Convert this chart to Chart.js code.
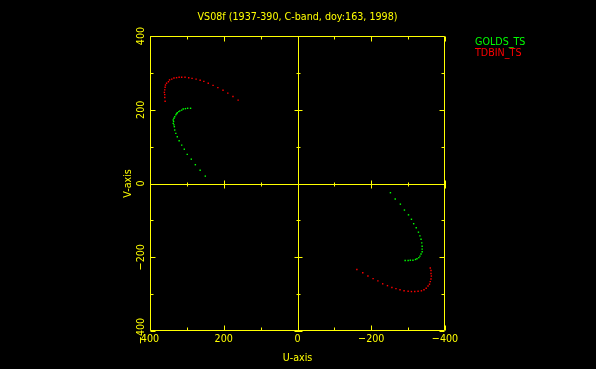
<!DOCTYPE html>
<html>
<head>
<meta charset="utf-8">
<script src="https://cdn.jsdelivr.net/npm/chart.js@4/dist/chart.umd.min.js"></script>
<style>
  html, body { margin: 0; background: #000; }
  canvas { display: block; }
</style>
</head>
<body>
<canvas id="uv" width="596" height="369"></canvas>
<script>
const titleText = "VS08f (1937-390, C-band, doy:163, 1998)";
const seriesNames = ["GOLDS_TS", "TDBIN_TS"];
const seriesColors = ["#00ff00", "#ff0000"];
const tickValues = [-400, -300, -200, -100, 0, 100, 200, 300, 400];
const tickLabels = ["\u2212400", "", "\u2212200", "", "0", "", "200", "", "400"];

// GOLDS_TS: upper arc then conjugate lower arc
const goldsU = [290, 298, 304, 310, 314, 319, 322, 326, 328, 330, 333, 335, 337, 336, 337, 335, 334, 333, 330, 326, 321, 314, 307, 299, 288, 277, 264, 250,
  -252, -265, -279, -290, -301, -309, -315, -322, -328, -332, -335, -337, -338, -338, -338, -335, -332, -329, -324, -320, -313, -306, -300, -292];
const goldsV = [204, 204, 203, 202, 199, 197, 195, 192, 189, 186, 181, 177, 172, 168, 163, 159, 154, 145, 136, 127, 116, 104, 93, 79, 66, 51, 36, 20,
  -25, -42, -56, -72, -85, -97, -109, -120, -132, -142, -151, -161, -170, -178, -185, -191, -197, -201, -204, -206, -208, -208, -209, -209];

// TDBIN_TS
const tdbinU = [161, 175, 189, 202, 216, 229, 242, 254, 264, 275, 286, 295, 305, 314, 321, 328, 335, 341, 347, 350, 355, 358, 359, 360, 361, 360, 360, 359,
  -161, -177, -191, -205, -218, -231, -244, -256, -267, -278, -289, -300, -309, -318, -327, -336, -343, -349, -354, -358, -360, -362, -363, -362, -362, -360];
const tdbinV = [226, 236, 245, 253, 260, 266, 272, 277, 280, 283, 285, 287, 288, 288, 288, 287, 286, 283, 281, 276, 272, 267, 261, 254, 247, 241, 233, 223,
  -233, -242, -251, -258, -264, -272, -277, -282, -285, -288, -291, -292, -293, -293, -292, -291, -288, -284, -278, -273, -266, -259, -251, -244, -236, -229];

const FG = "#ffff00";
const FONT = "11px 'DejaVu Sans'";
const SQUEEZE = 0.87;

function toPoints(us, vs) {
  return us.map((u, i) => ({ x: u, y: vs[i] }));
}

function drawText(ctx, s, x, y, color, align, rot) {
  ctx.save();
  ctx.translate(x, y);
  if (rot) ctx.rotate(rot);
  ctx.scale(SQUEEZE, 1);
  ctx.font = FONT;
  ctx.fillStyle = color;
  ctx.textAlign = align || "center";
  ctx.textBaseline = "middle";
  ctx.fillText(s, 0, 0);
  ctx.restore();
}

const frame = {
  id: "frame",
  beforeDraw(chart) {
    const ctx = chart.ctx;
    ctx.save();
    ctx.fillStyle = "#000";
    ctx.fillRect(0, 0, chart.width, chart.height);
    ctx.restore();
  },
  beforeDatasetsDraw(chart) {
    const { ctx, chartArea: a, scales: { x, y } } = chart;
    const L = Math.round(a.left) + 0.5, R = Math.round(a.right) - 0.5;
    const T = Math.round(a.top) + 0.5, B = Math.round(a.bottom) - 0.5;
    const x0 = Math.round(x.getPixelForValue(0)) + 0.5;
    const y0 = Math.round(y.getPixelForValue(0)) + 0.5;
    ctx.save();
    ctx.strokeStyle = FG;
    ctx.lineWidth = 1;
    ctx.beginPath();
    ctx.rect(L, T, R - L, B - T);
    ctx.moveTo(x0, T); ctx.lineTo(x0, B);
    ctx.moveTo(L, y0); ctx.lineTo(R, y0);
    tickValues.forEach(v => {
      const len = v % 200 === 0 ? 5 : 3;
      const px = Math.round(x.getPixelForValue(v)) + 0.5;
      const py = Math.round(y.getPixelForValue(v)) + 0.5;
      // box edges, inward
      ctx.moveTo(px, B); ctx.lineTo(px, B - len);
      ctx.moveTo(px, T); ctx.lineTo(px, T + len);
      ctx.moveTo(L, py); ctx.lineTo(L + len, py);
      ctx.moveTo(R, py); ctx.lineTo(R - len, py);
      // zero lines, crossing
      ctx.moveTo(px, y0 - len + 1); ctx.lineTo(px, y0 + len - 1);
      ctx.moveTo(x0 - len + 1, py); ctx.lineTo(x0 + len - 1, py);
    });
    ctx.stroke();
    ctx.restore();
  },
  afterDraw(chart) {
    const { ctx, chartArea: a, scales: { x, y } } = chart;
    drawText(ctx, titleText, (a.left + a.right) / 2, 17, FG);
    tickValues.forEach((v, i) => {
      if (!tickLabels[i]) return;
      drawText(ctx, tickLabels[i], x.getPixelForValue(v), a.bottom + 8, FG);
      drawText(ctx, tickLabels[i], a.left - 9, y.getPixelForValue(v), FG, "center", -Math.PI / 2);
    });
    drawText(ctx, "U-axis", (a.left + a.right) / 2, 358, FG);
    drawText(ctx, "V-axis", 128, (a.top + a.bottom) / 2, FG, "center", -Math.PI / 2);
    seriesNames.forEach((n, i) => drawText(ctx, n, 475, 42 + i * 11, seriesColors[i], "left"));
  }
};

new Chart(document.getElementById("uv"), {
  type: "scatter",
  data: {
    datasets: [
      { label: seriesNames[0], data: toPoints(goldsU, goldsV), backgroundColor: seriesColors[0], borderColor: seriesColors[0] },
      { label: seriesNames[1], data: toPoints(tdbinU, tdbinV), backgroundColor: seriesColors[1], borderColor: seriesColors[1] }
    ]
  },
  options: {
    responsive: false,
    animation: false,
    devicePixelRatio: 1,
    layout: { padding: { left: 150, right: 151, top: 36, bottom: 38 } },
    elements: { point: { pointStyle: "rect", radius: 1, borderWidth: 0, hoverRadius: 1 } },
    plugins: { legend: { display: false }, tooltip: { enabled: false }, title: { display: false } },
    scales: {
      x: { type: "linear", min: -400, max: 400, reverse: true, display: false },
      y: { type: "linear", min: -400, max: 400, display: false }
    }
  },
  plugins: [frame]
});
</script>
</body>
</html>
